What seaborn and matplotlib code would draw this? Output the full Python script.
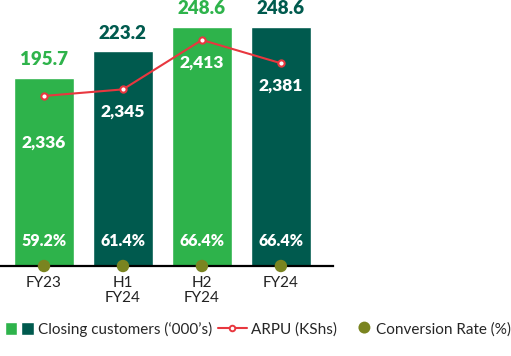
import matplotlib
matplotlib.use("Agg")
import matplotlib.pyplot as plt
import seaborn as sns
import pandas as pd
from matplotlib.patches import Patch, Circle
from matplotlib.lines import Line2D
from matplotlib.legend_handler import HandlerTuple

periods = ["FY23", "H1\nFY24", "H2\nFY24", "FY24"]
customers = [195.7, 223.2, 248.6, 248.6]
arpu = [2336, 2345, 2413, 2381]
conversion = [59.2, 61.4, 66.4, 66.4]
customer_labels = ["195.7", "223.2", "248.6", "248.6"]
arpu_labels = ["2,336", "2,345", "2,413", "2,381"]
conversion_labels = ["59.2%", "61.4%", "66.4%", "66.4%"]

LIGHT = "#2eb34b"
DARK = "#005a4e"
RED = "#e8373f"
OLIVE = "#7a8420"
bar_colors = [LIGHT, DARK, LIGHT, DARK]

sns.set_style("white")
plt.rcParams["font.family"] = ["Lato", "DejaVu Sans"]

df = pd.DataFrame({"period": periods, "customers": customers, "arpu": arpu, "conv": conversion})

fig = plt.figure(figsize=(5.11, 3.56), dpi=100)
ax = fig.add_axes([0.0, 1 - 266 / 356, 333 / 511, 266 / 356])
sns.barplot(data=df, x="period", y="customers", hue="period", palette=bar_colors,
            width=0.76, legend=False, ax=ax, saturation=1)
ax.set_xlim(-0.557, 3.66)
ax.set_ylim(0, 276.7)
ax.set_xlabel("")
ax.set_ylabel("")
ax.set_yticks([])
for s in ["top", "left", "right"]:
    ax.spines[s].set_visible(False)
ax.spines["bottom"].set_color("black")
ax.spines["bottom"].set_linewidth(1.6)
ax.tick_params(axis="x", length=0, pad=7, labelsize=11, colors="#222222")
for lbl in ax.get_xticklabels():
    lbl.set_linespacing(1.1)

# value labels above bars
for i, (v, t) in enumerate(zip(customers, customer_labels)):
    ax.annotate(t, (i, v), xytext=(0, 7), textcoords="offset points", ha="center",
                va="bottom", fontsize=13.5, fontweight="heavy", color=bar_colors[i])

# conversion labels inside bars near base
for i, t in enumerate(conversion_labels):
    ax.annotate(t, (i, 0), xytext=(0, 12), textcoords="offset points", ha="center",
                va="bottom", fontsize=11.5, fontweight="heavy", color="white")

# ARPU line on twin axis
ax2 = ax.twinx()
sns.lineplot(x=list(range(len(arpu))), y=arpu, ax=ax2, color=RED, linewidth=1.5,
             marker="o", markersize=4.5, markerfacecolor="white", markeredgecolor=RED,
             markeredgewidth=1.5)
ax2.set_ylim(2102, 2468)
ax2.set_yticks([])
ax2.set_ylabel("")
for s in ["top", "left", "right", "bottom"]:
    ax2.spines[s].set_visible(False)

# ARPU labels below their line points
arpu_label_offsets = [-34, -16, -16, -16]
for i, (v, t) in enumerate(zip(arpu, arpu_labels)):
    ax2.annotate(t, (i, v), xytext=(0, arpu_label_offsets[i]), textcoords="offset points",
                 ha="center", va="center", fontsize=12.5, fontweight="heavy", color="white")

# conversion dots on the axis line
ax.scatter(range(len(conversion)), [0] * len(conversion), color=OLIVE, s=80,
           edgecolor="none", clip_on=False, zorder=5)


class DotHandler:
    def legend_artist(self, legend, orig_handle, fontsize, handlebox):
        w, h = handlebox.width, handlebox.height
        r = 4.3
        c = Circle((w - r - 1, h / 2 - handlebox.ydescent + 0.5), r, facecolor=OLIVE,
                   edgecolor="none", transform=handlebox.get_transform())
        handlebox.add_artist(c)
        return c


dot_handle = Patch(facecolor=OLIVE)
handles = [
    (Patch(facecolor=LIGHT), Patch(facecolor=DARK)),
    Line2D([], [], color=RED, lw=1.5, marker="o", markersize=4, markerfacecolor="white",
           markeredgecolor=RED, markeredgewidth=1.4),
    dot_handle,
]
labels = ["Closing customers (\u2018000\u2019s)", "ARPU (KShs)", "Conversion Rate (%)"]
fig.legend(handles, labels, loc="center left", bbox_to_anchor=(-0.003, 1 - 329 / 356),
           ncol=3, frameon=False, fontsize=11, handlelength=1.9, handleheight=0.95,
           handletextpad=0.3, columnspacing=0.35, borderaxespad=0,
           handler_map={tuple: HandlerTuple(ndivide=None, pad=0.25),
                        dot_handle: DotHandler()})

fig.savefig("out.png", dpi=100)
